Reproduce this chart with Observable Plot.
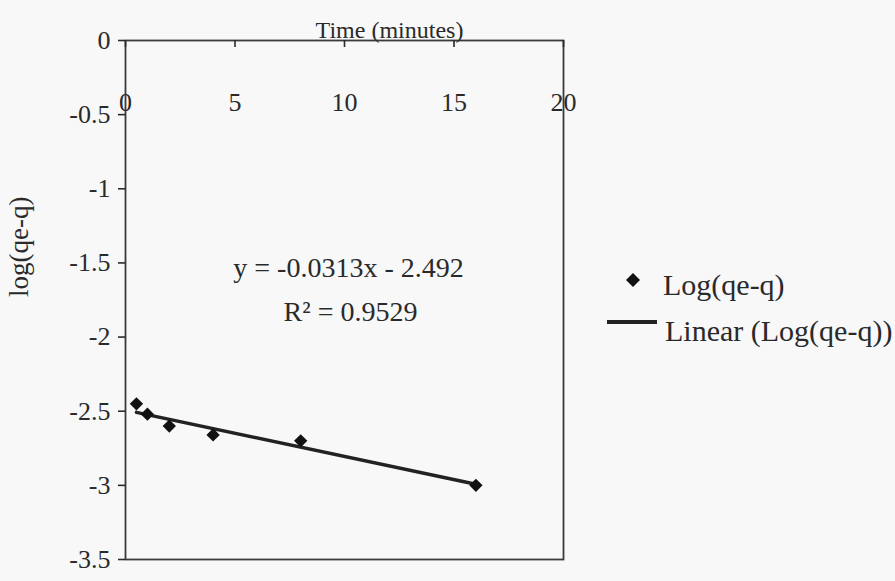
<!DOCTYPE html>
<html><head><meta charset="utf-8">
<script src="https://cdn.jsdelivr.net/npm/d3@7"></script>
<script src="https://cdn.jsdelivr.net/npm/@observablehq/plot@0.6"></script>
<style>
body{margin:0;background:#f8f8f8;}
#wrap{position:relative;width:895px;height:581px;font-family:"Liberation Serif","Times New Roman",serif;}
#chart{position:absolute;left:0;top:0;}
#legend{position:absolute;left:600px;top:250px;}
</style></head><body>
<div id="wrap"><div id="chart"></div><div id="legend"></div></div>
<script>
// data
const time = [0.5, 1, 2, 4, 8, 16];
const logQ = [-2.45, -2.52, -2.60, -2.66, -2.70, -3.00];
const xTicks = [0, 5, 10, 15, 20];
const yTicks = [0, -0.5, -1, -1.5, -2, -2.5, -3, -3.5];
const slope = -0.0313, intercept = -2.492;
const eqLine1 = "y = -0.0313x - 2.492";
const eqLine2 = "R\u00B2 = 0.9529";
const seriesNames = ["Log(qe-q)", "Linear (Log(qe-q))"];
const xLabel = "Time (minutes)";
const yLabel = "log(qe-q)";

const pts = time.map((t, i) => ({t, v: logQ[i]}));
const trend = [d3.min(time), d3.max(time)].map(t => ({t, v: slope * t + intercept}));
const ink = "#2a2a2a";

const chart = Plot.plot({
  width: 600, height: 581,
  marginLeft: 125, marginRight: 37, marginTop: 40, marginBottom: 22,
  style: {fontFamily: "'Liberation Serif', serif", background: "transparent", color: ink, overflow: "visible"},
  x: {domain: [0, 20], axis: null},
  y: {domain: [-3.5, 0], axis: null},
  marks: [
    Plot.frame({stroke: "#3a3a3a", strokeWidth: 1.8}),
    Plot.axisY(yTicks, {tickSize: 7, tickPadding: 8, tickFormat: d => String(d), fontSize: 26, label: null, stroke: ink, fill: ink, strokeWidth: 1.6}),
    Plot.tickX(xTicks, {x: d => d, insetBottom: 512, stroke: ink, strokeWidth: 1.6}),
    Plot.text(xTicks, {x: d => d, frameAnchor: "top", dy: 52, text: d => String(d), fontSize: 26, fill: ink}),
    Plot.text([xLabel], {frameAnchor: "top", dx: 45, dy: -20, text: d => d, fontSize: 24, fill: ink}),
    Plot.text([yLabel], {frameAnchor: "left", dx: -106, dy: -3, rotate: -90, text: d => d, fontSize: 27, fill: ink}),
    Plot.line(trend, {x: "t", y: "v", stroke: "#222", strokeWidth: 3.5}),
    Plot.dot(pts, {x: "t", y: "v", symbol: "diamond2", r: 6, fill: "#111", stroke: "none"}),
    Plot.text([eqLine1], {frameAnchor: "top", dx: 4, dy: 217, text: d => d, fontSize: 28, fill: ink}),
    Plot.text([eqLine2], {frameAnchor: "top", dx: 6, dy: 261, text: d => d, fontSize: 28, fill: ink})
  ]
});
document.getElementById("chart").append(chart);

// legend (to the right of the plot)
const ns = "http://www.w3.org/2000/svg";
const lg = document.createElementNS(ns, "svg");
lg.setAttribute("width", 295); lg.setAttribute("height", 110);
lg.style.fontFamily = "'Liberation Serif', serif";
const dia = document.createElementNS(ns, "path");
dia.setAttribute("d", "M33,23L40,30L33,37L26,30Z"); dia.setAttribute("fill", "#111");
lg.append(dia);
const ln = document.createElementNS(ns, "line");
ln.setAttribute("x1", 7); ln.setAttribute("x2", 57); ln.setAttribute("y1", 72); ln.setAttribute("y2", 72);
ln.setAttribute("stroke", "#222"); ln.setAttribute("stroke-width", 4);
lg.append(ln);
[[seriesNames[0], 63, 45], [seriesNames[1], 65, 91]].forEach(([s, x, y]) => {
  const t = document.createElementNS(ns, "text");
  t.setAttribute("x", x); t.setAttribute("y", y);
  t.setAttribute("font-size", 30); t.setAttribute("fill", ink);
  t.textContent = s;
  lg.append(t);
});
document.getElementById("legend").append(lg);
</script>
</body></html>
